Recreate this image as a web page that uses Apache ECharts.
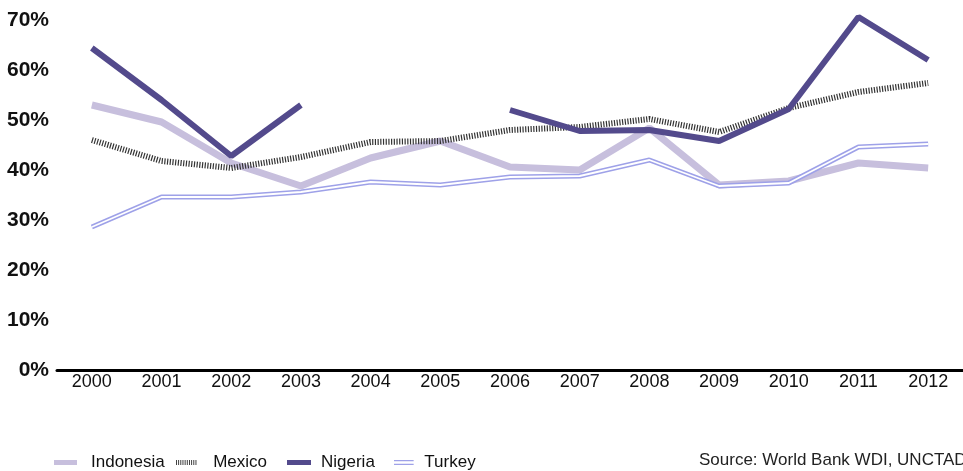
<!DOCTYPE html>
<html>
<head>
<meta charset="utf-8">
<script src="https://cdn.jsdelivr.net/npm/echarts@6/dist/echarts.min.js"></script>
<style>
html,body{margin:0;padding:0;background:#fff;overflow:hidden;}
#chart{width:963px;height:471px;}
</style>
</head>
<body>
<div id="chart"></div>
<script>
var years = ['2000','2001','2002','2003','2004','2005','2006','2007','2008','2009','2010','2011','2012'];
var indonesia = [53.0, 49.6, 41.4, 36.8, 42.4, 45.8, 40.6, 40.0, 48.4, 37.0, 37.8, 41.4, 40.4];
var mexico    = [46.0, 41.8, 40.4, 42.6, 45.6, 45.8, 48.0, 48.6, 50.2, 47.6, 52.4, 55.6, 57.4];
var nigeria   = [64.4, 54.0, 42.8, 53.0, null, null, 52.0, 47.8, 48.0, 45.8, 52.2, 70.6, 62.0];
var turkey    = [28.6, 34.6, 34.6, 35.6, 37.6, 37.0, 38.6, 38.8, 42.0, 36.8, 37.4, 44.6, 45.2];
var yTicks = [0, 10, 20, 30, 40, 50, 60, 70];

var FONT = '"Liberation Sans", Arial, Helvetica, sans-serif';
var C_IND = '#c7bfdd', C_MEX = '#333333', C_NIG = '#534a8c', C_TUR = '#9ea1e8';

var chart = echarts.init(document.getElementById('chart'), null, {renderer: 'canvas'});

function legendAt(name, left, icon, w, pad) {
  return {
    data: [{name: name, icon: icon}],
    left: left, top: 449,
    itemWidth: w, itemHeight: 5,
    itemStyle: {borderWidth: 0},
    selectedMode: false,
    textStyle: {fontFamily: FONT, fontSize: 17, color: '#111', padding: [0,0,0,pad]}
  };
}
var hatchIcon = 'path://' + (function(){var s='';for(var i=0;i<10;i++){var x=i*2.6;s+='M'+x+',0h1.1v6h-1.1z ';}return s;})();

chart.setOption({
  animation: false,
  backgroundColor: '#fff',
  grid: {left: 57, right: -5, top: 20, bottom: 101, containLabel: false},
  legend: [
    legendAt('Indonesia', 49, 'rect', 23, 9),
    legendAt('Mexico', 171, hatchIcon, 26, 9),
    legendAt('Nigeria', 282, 'rect', 24, 5),
    legendAt('Turkey', 389, 'path://M0,0h22v1.4h-22z M0,4.2h22v1.4h-22z', 23, 4)
  ],
  graphic: [{
    type: 'text', left: 699, top: 452,
    style: {text: 'Source: World Bank WDI, UNCTAD', fontFamily: FONT, fontSize: 17, fill: '#222'}
  }],
  xAxis: {
    type: 'category', data: years, boundaryGap: true,
    axisLine: {show: true, lineStyle: {color: '#000', width: 3}},
    axisTick: {show: false},
    axisLabel: {color: '#111', fontFamily: FONT, fontSize: 18, margin: 3}
  },
  yAxis: {
    type: 'value', min: 0, max: 70, interval: 10,
    axisLine: {show: false}, axisTick: {show: false},
    splitLine: {show: false},
    axisLabel: {
      color: '#111', fontFamily: FONT, fontSize: 21, fontWeight: 'bold', margin: 8,
      formatter: function(v){ return yTicks.indexOf(v) >= 0 ? v + '%' : ''; }
    }
  },
  series: [
    {name: 'Indonesia', type: 'line', data: indonesia, showSymbol: false, symbol: 'none', clip: false,
     itemStyle: {color: C_IND}, lineStyle: {color: C_IND, width: 7}, z: 2},
    {name: 'Mexico', type: 'line', data: mexico, showSymbol: false, symbol: 'none', clip: false,
     itemStyle: {color: C_MEX}, lineStyle: {color: C_MEX, width: 6, type: [1.2, 1.5]}, z: 3},
    {name: 'Nigeria', type: 'line', data: nigeria, showSymbol: false, symbol: 'none', connectNulls: false, clip: false,
     itemStyle: {color: C_NIG}, lineStyle: {color: C_NIG, width: 6}, z: 4},
    {name: 'Turkey', type: 'line', data: turkey, showSymbol: false, symbol: 'none', clip: false,
     itemStyle: {color: C_TUR}, lineStyle: {color: C_TUR, width: 5}, z: 5},
    {name: 'TurkeyInner', type: 'line', data: turkey, showSymbol: false, symbol: 'none', clip: false,
     itemStyle: {color: '#fff'}, lineStyle: {color: '#fff', width: 1.8}, z: 6}
  ]
});
</script>
</body>
</html>
